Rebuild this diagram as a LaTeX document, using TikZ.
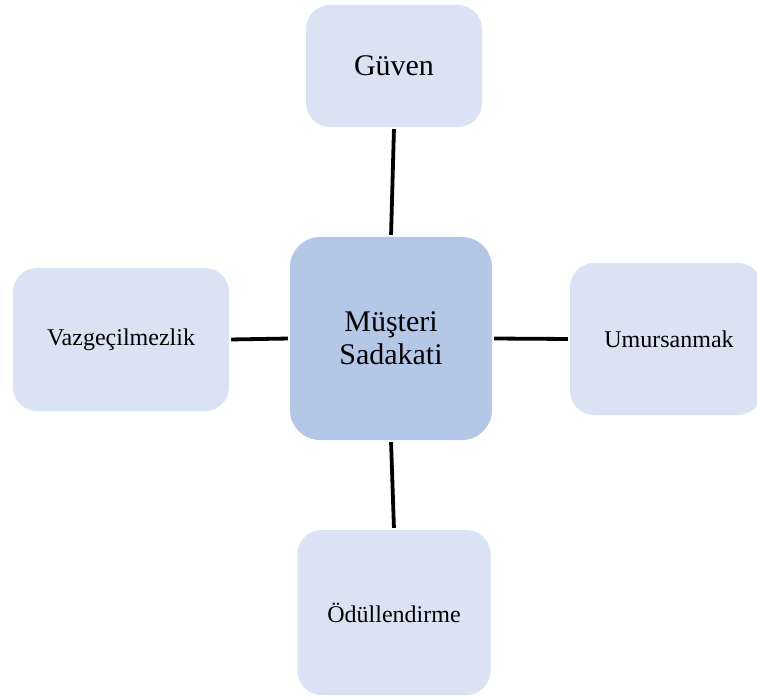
\documentclass[tikz,border=0pt]{standalone}
\usepackage{fontspec}
\setmainfont{Liberation Serif}
\definecolor{hubfill}{HTML}{B4C7E7}
\definecolor{leaffill}{HTML}{DAE3F3}
\begin{document}
\begin{tikzpicture}[x=1pt,y=-1pt,
  box/.style={rectangle, rounded corners=24pt, inner sep=0pt, align=center, text=black},
  hub/.style={box, fill=hubfill, minimum width=202pt, minimum height=203pt, rounded corners=30pt, font=\fontsize{30}{33}\selectfont},
  leaf/.style={box, fill=leaffill, font=\fontsize{24}{28}\selectfont},
  link/.style={line width=3.8pt, shorten <=2pt, shorten >=2pt}]
  \useasboundingbox (0,0) rectangle (757,700);
  \clip (0,0) rectangle (757,700);
  % central concept
  \node[hub] (center) at (391,338.5) {Müşteri\\Sadakati};
  % surrounding factors
  \node[leaf, minimum width=176pt, minimum height=122pt, font=\fontsize{30}{33}\selectfont] (guven) at (394,66) {Güven};
  \node[leaf, minimum width=216pt, minimum height=143pt] (vaz) at (121,339.5) {Vazgeçilmezlik};
  \node[leaf, minimum width=192pt, minimum height=152pt, text width=186pt] (umur) at (666,339) {\hspace*{6pt}Umursanmak};
  \node[leaf, minimum width=193pt, minimum height=165pt] (odul) at (394,612.5) {Ödüllendirme};
  % connectors
  \draw[link] (guven.south) -- (center.north);
  \draw[link] (center.south) -- (odul.north);
  \draw[link] (vaz.east) -- (center.west);
  \draw[link] (center.east) -- (umur.west);
\end{tikzpicture}
\end{document}
